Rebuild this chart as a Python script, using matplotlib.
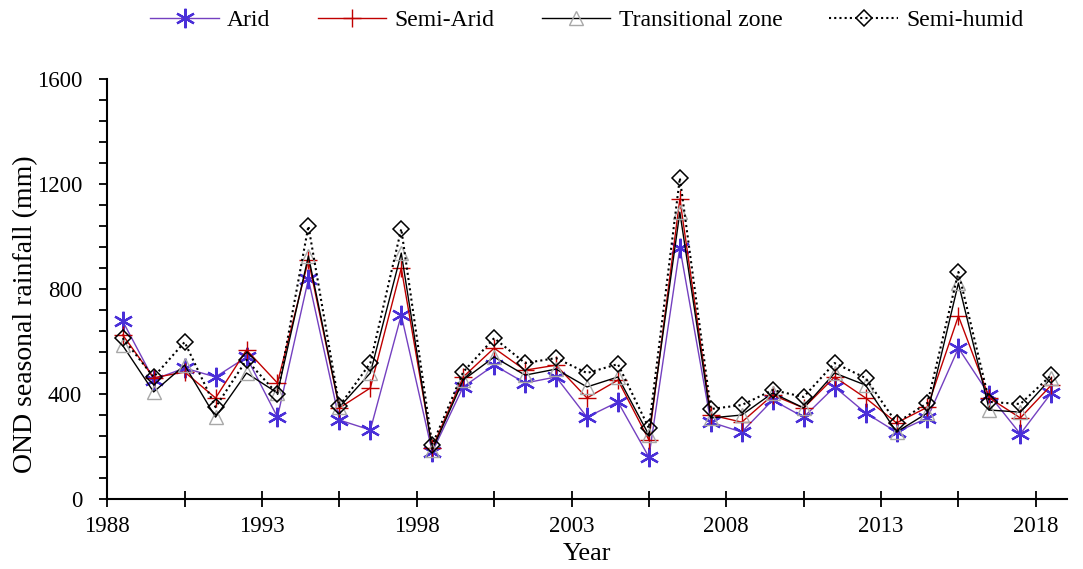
import matplotlib
matplotlib.use('Agg')
import matplotlib.pyplot as plt
from matplotlib.ticker import FixedLocator

plt.rcParams['font.family'] = ['Liberation Serif', 'DejaVu Serif']

years = list(range(1988, 2019))

arid = [678, 455, 499, 465, 541, 312, 838, 301, 263, 701,
        179, 427, 510, 442, 465, 312, 370, 160, 958, 293,
        255, 377, 312, 427, 328, 255, 309, 575, 396, 248, 404]
semi_arid = [625, 462, 484, 385, 568, 442, 910, 347, 423, 880,
             194, 465, 575, 491, 510, 385, 453, 225, 1143, 320,
             293, 396, 347, 465, 385, 290, 350, 697, 385, 309, 434]
transitional = [585, 408, 510, 312, 480, 404, 926, 350, 480, 937,
                187, 453, 541, 472, 495, 427, 465, 244, 1093, 309,
                320, 404, 347, 480, 434, 255, 328, 823, 339, 331, 461]
semi_humid = [613, 465, 598, 350, 530, 400, 1040, 354, 518, 1029,
              206, 484, 613, 518, 537, 480, 514, 270, 1223, 343,
              358, 415, 389, 518, 461, 290, 366, 865, 370, 362, 472]

# points sit in the middle of each year
xpos = [y + 0.5 for y in years]

fig = plt.figure(figsize=(10.83, 5.69), dpi=100)
ax = fig.add_axes([0.099, 0.123, 0.886, 0.738])

ax.plot(xpos, arid, color='#7440c0', lw=1.0, marker=(6, 2, 0), ms=14,
        mec='#4a2fd8', mew=1.6, label='Arid')
ax.plot(xpos, semi_arid, color='#c00000', lw=1.0, marker='+', ms=13,
        mec='#c00000', mew=1.0, label='Semi-Arid')
ax.plot(xpos, transitional, color='black', lw=1.0, marker='^', ms=10,
        mfc='none', mec='#a8a8a8', mew=1.0, label='Transitional zone')
ax.plot(xpos, semi_humid, color='black', lw=1.5, ls=(0, (1, 1.5)), marker='D', ms=8,
        mfc='none', mec='black', mew=1.1, label='Semi-humid')

ax.set_xlim(1988, 2019)
ax.set_ylim(0, 1600)
ax.xaxis.set_major_locator(FixedLocator(list(range(1988, 2019, 5))))
ax.xaxis.set_minor_locator(FixedLocator([1990.5 + 5 * i for i in range(6)]))
ax.yaxis.set_major_locator(FixedLocator(list(range(0, 1601, 400))))
ax.yaxis.set_minor_locator(FixedLocator(list(range(0, 1601, 80))))

ax.spines['top'].set_visible(False)
ax.spines['right'].set_visible(False)
for s in ('left', 'bottom'):
    ax.spines[s].set_linewidth(1.5)
ax.tick_params(axis='x', which='both', width=1.3, length=11, direction='inout')
ax.tick_params(axis='x', which='major', labelsize=16.5, pad=7)
ax.tick_params(axis='y', which='both', direction='out', length=6, width=1.3)
ax.tick_params(axis='y', which='major', labelsize=16.5, pad=12)

ax.set_xlabel('Year', fontsize=19, labelpad=4)
ax.set_ylabel('OND seasonal rainfall (mm)', fontsize=20)
ax.yaxis.set_label_coords(-0.072, 0.44)

fig.legend(loc='upper center', bbox_to_anchor=(0.542, 1.02), ncol=4, frameon=False,
           fontsize=17, handlelength=2.9, columnspacing=2.0, handletextpad=0.35)

fig.savefig('out.png', dpi=100)
